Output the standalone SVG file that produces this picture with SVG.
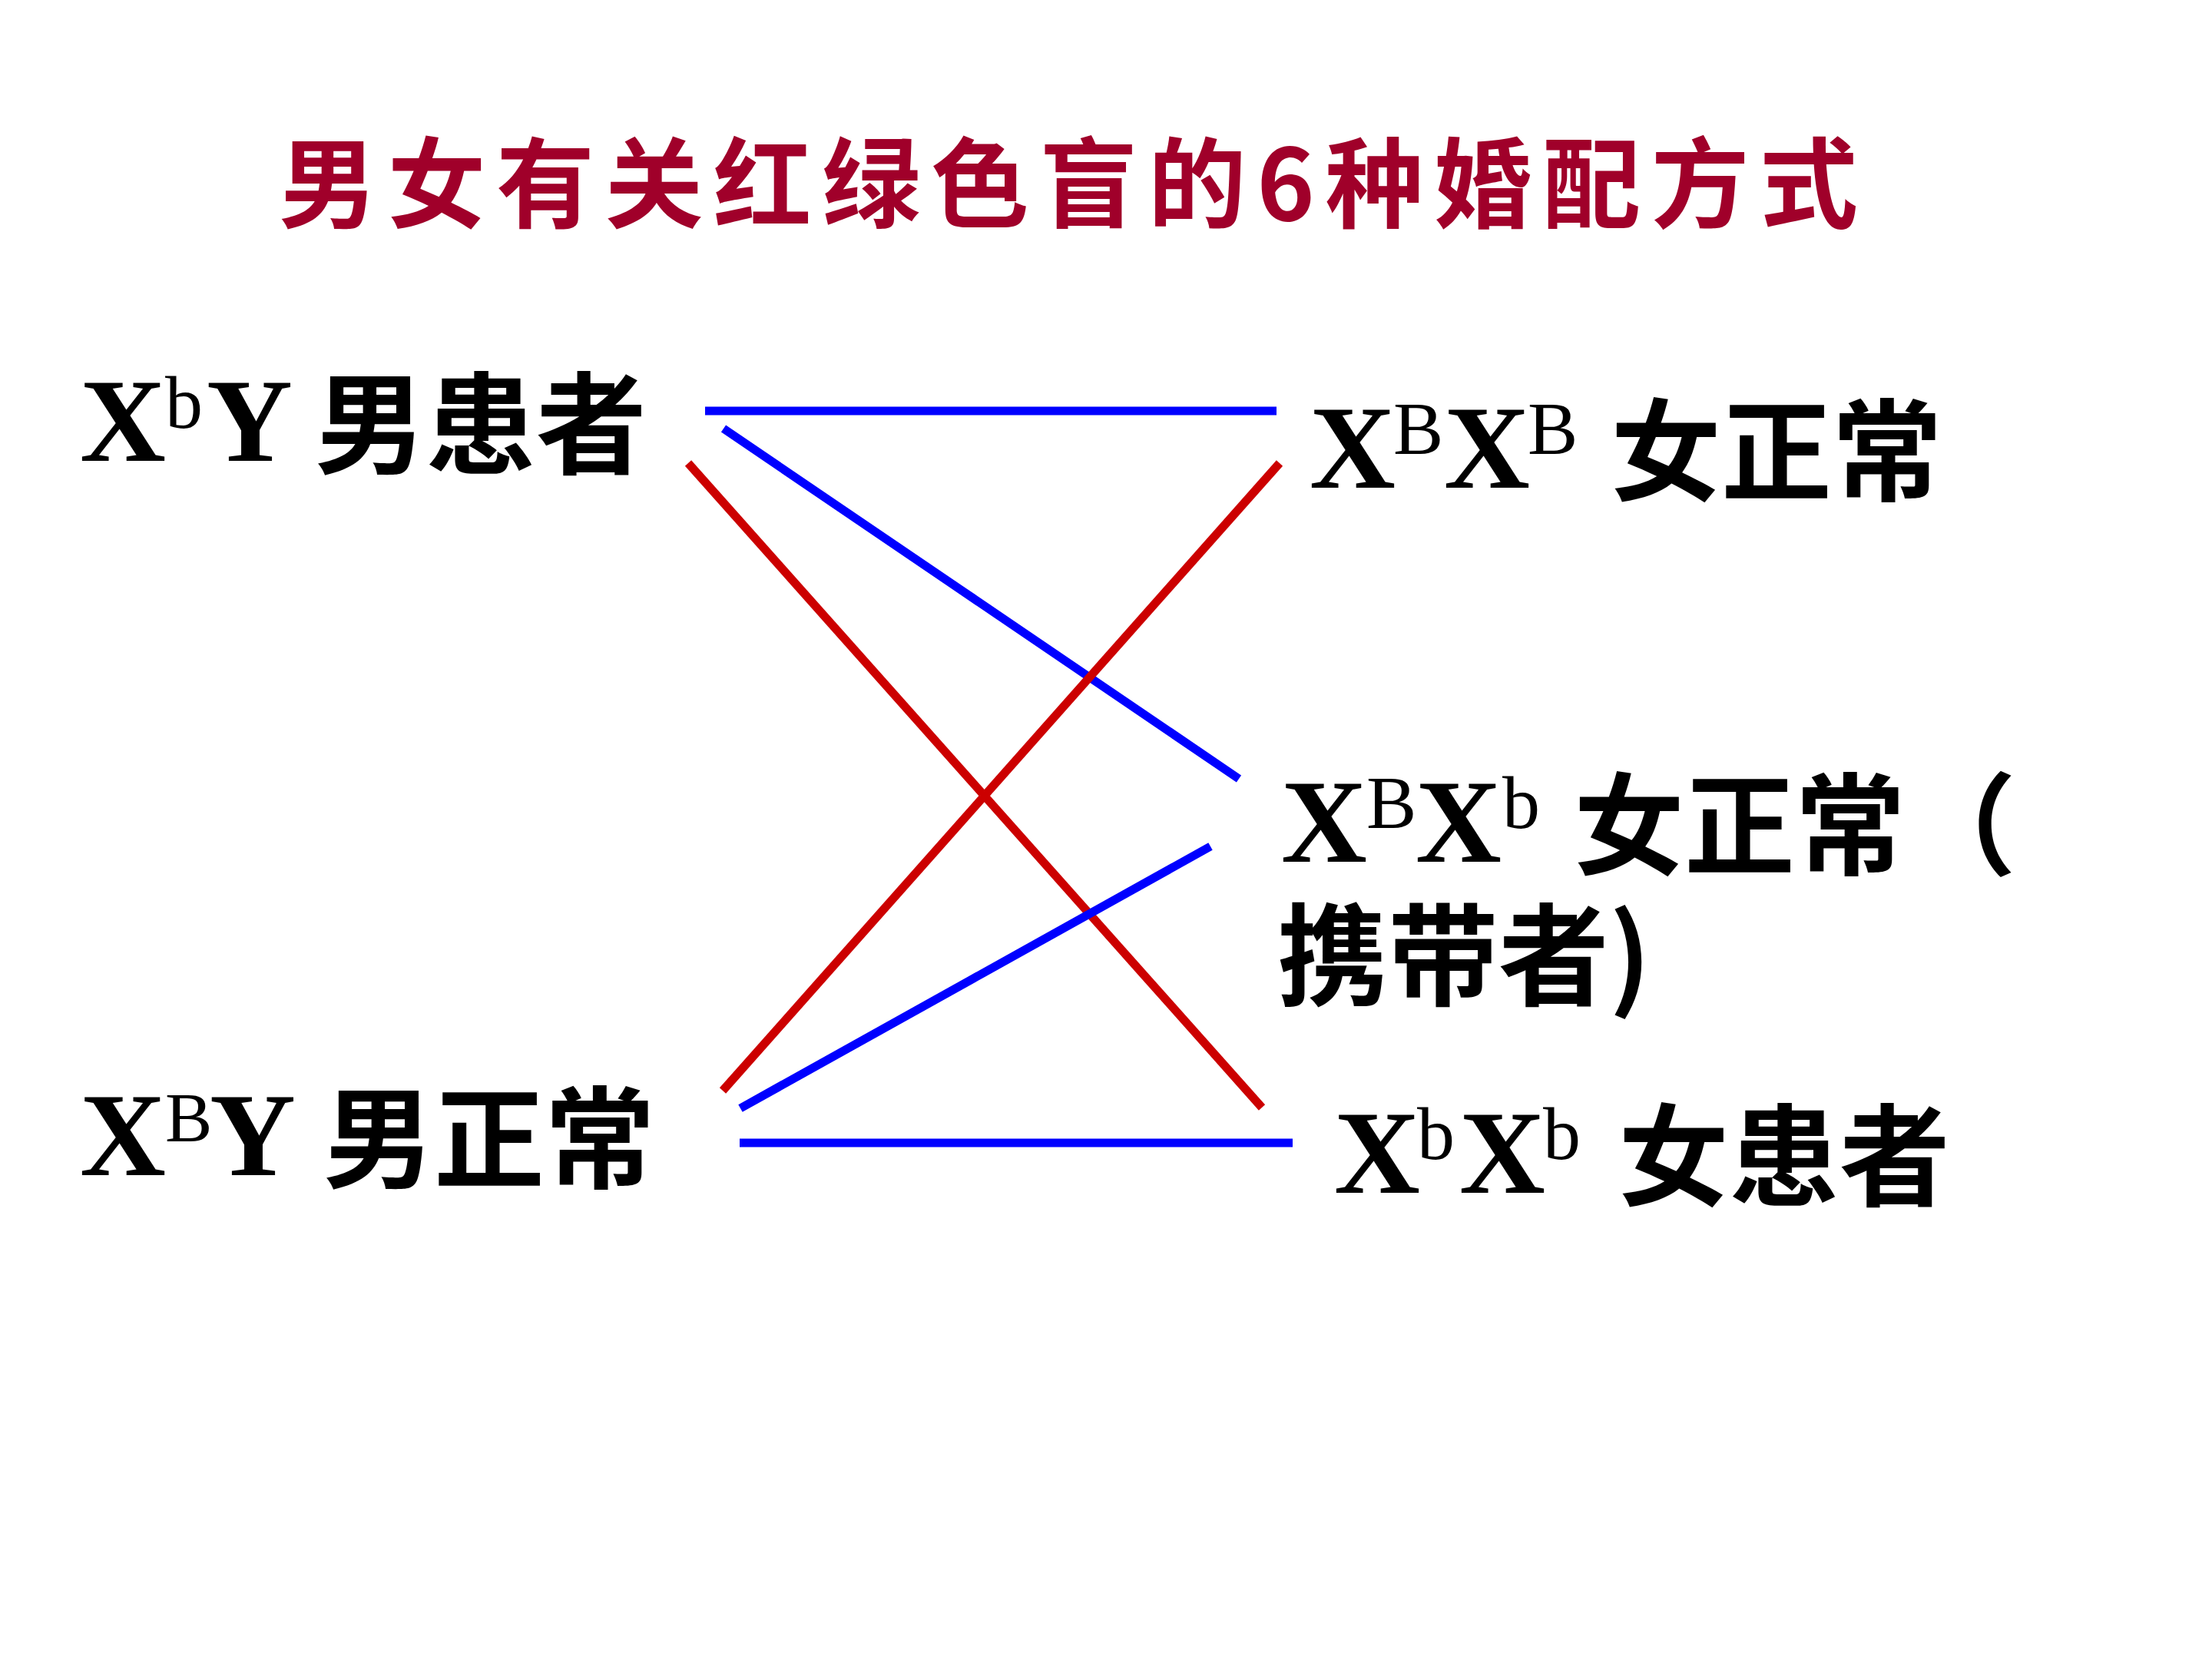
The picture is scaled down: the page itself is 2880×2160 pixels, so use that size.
<svg xmlns="http://www.w3.org/2000/svg" width="2880" height="2160" viewBox="0 0 2880 2160">
  <style>
    .lat { font-family: "Liberation Serif", "Times New Roman", serif; font-weight: bold; font-size: 155px; fill: #000; }
    .sup { font-family: "Liberation Serif", "Times New Roman", serif; font-weight: normal; font-size: 98px; }
    .sup-s { font-size: 92px; }
    .cjk { font-family: "Noto Sans CJK SC", "Noto Sans CJK TC", sans-serif; font-weight: bold; font-size: 144px; }
    .title { font-family: "Noto Sans CJK SC", "Noto Sans CJK TC", sans-serif; font-weight: bold; font-size: 128px; fill: #A0002A; }
    .blue { stroke: #0000FF; stroke-width: 11; fill: none; }
    .red { stroke: #CC0000; stroke-width: 11; fill: none; }
  </style>
  <rect x="0" y="0" width="2880" height="2160" fill="#FFFFFF"/>

  <g id="title">
    <text class="title" x="363" y="287" textLength="2056" lengthAdjust="spacing">男女有关红绿色盲的6种婚配方式</text>
  </g>

  <g id="connectors">
    <line class="blue" x1="918" y1="535" x2="1662" y2="535"/>
    <line class="blue" x1="942" y1="558" x2="1613" y2="1014"/>
    <line class="red" x1="896" y1="603" x2="1643" y2="1442"/>
    <line class="red" x1="1666" y1="603" x2="941" y2="1420"/>
    <line class="blue" x1="964" y1="1443" x2="1576" y2="1102"/>
    <line class="blue" x1="963" y1="1488" x2="1683" y2="1488"/>
  </g>

  <g id="node-XbY">
    <text class="lat" x="104" y="600">X<tspan class="sup" x="215" y="557">b</tspan><tspan x="269" y="600">Y</tspan><tspan class="cjk" x="410" y="606">男患者</tspan></text>
  </g>

  <g id="node-XBY">
    <text class="lat" x="104" y="1530">X<tspan class="sup sup-s" x="215" y="1486">B</tspan><tspan x="273" y="1530">Y</tspan><tspan class="cjk" x="421" y="1536">男正常</tspan></text>
  </g>

  <g id="node-XBXB">
    <text class="lat" x="1705" y="635">X<tspan class="sup" x="1814" y="591">B</tspan><tspan x="1880" y="635">X</tspan><tspan class="sup" x="1989" y="591">B</tspan><tspan class="cjk" x="2097" y="641">女正常</tspan></text>
  </g>

  <g id="node-XBXb">
    <text class="lat" x="1668" y="1122">X<tspan class="sup" x="1779" y="1078">B</tspan><tspan x="1843" y="1122">X</tspan><tspan class="sup" x="1956" y="1078">b</tspan><tspan class="cjk" x="2049" y="1128">女正常（</tspan></text>
    <text class="cjk" x="1663" y="1298">携带者)</text>
  </g>

  <g id="node-XbXb">
    <text class="lat" x="1737" y="1553">X<tspan class="sup" x="1845" y="1509">b</tspan><tspan x="1900" y="1553">X</tspan><tspan class="sup" x="2009" y="1509">b</tspan><tspan class="cjk" x="2107" y="1559">女患者</tspan></text>
  </g>
</svg>
